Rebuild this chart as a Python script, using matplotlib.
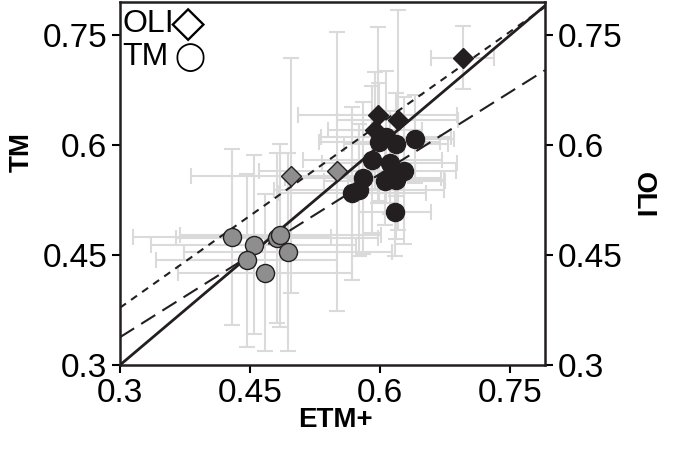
import numpy as np
import matplotlib
matplotlib.use("Agg")
import matplotlib.pyplot as plt

fam = ['Liberation Sans', 'DejaVu Sans']
plt.rcParams['font.family'] = fam

ticks = [0.3, 0.45, 0.6, 0.75]
tick_labels = ['0.3', '0.45', '0.6', '0.75']

# OLI vs ETM+ (diamonds)
oli_dark_x = [0.695, 0.597, 0.620, 0.594]
oli_dark_y = [0.719, 0.641, 0.634, 0.620]
oli_dark_xerr = [0.036, 0.092, 0.070, 0.054]
oli_dark_yerr = [0.043, 0.120, 0.150, 0.080]

oli_gray_x = [0.497, 0.550]
oli_gray_y = [0.558, 0.564]
oli_gray_xerr = [0.115, 0.090]
oli_gray_yerr = [0.160, 0.190]

# TM vs ETM+ (circles)
tm_dark_x = [0.599, 0.607, 0.618, 0.640, 0.591, 0.611, 0.580, 0.627, 0.605, 0.618, 0.575, 0.568, 0.617]
tm_dark_y = [0.604, 0.611, 0.601, 0.608, 0.580, 0.576, 0.555, 0.565, 0.551, 0.552, 0.538, 0.534, 0.509]
tm_dark_xerr = [0.070, 0.075, 0.060, 0.045, 0.080, 0.078, 0.090, 0.060, 0.070, 0.055, 0.098, 0.085, 0.041]
tm_dark_yerr = [0.080, 0.090, 0.070, 0.060, 0.100, 0.070, 0.104, 0.100, 0.060, 0.080, 0.090, 0.118, 0.060]

tm_gray_x = [0.429, 0.454, 0.446, 0.481, 0.485, 0.4935, 0.467]
tm_gray_y = [0.474, 0.464, 0.443, 0.473, 0.477, 0.454, 0.426]
tm_gray_xerr = [0.114, 0.118, 0.104, 0.116, 0.116, 0.120, 0.100]
tm_gray_yerr = [0.120, 0.122, 0.118, 0.116, 0.125, 0.135, 0.107]

# fitted lines (intercept, slope)
oli_fit = (0.127, 0.837)
tm_fit = (0.115, 0.743)

xlim = (0.3, 0.79)
ylim = (0.3, 0.795)

dark = '#231f20'
gray = '#8e8e8e'
ecol = '#dadada'

fig = plt.figure(figsize=(6.75, 4.63), dpi=100)
ax = fig.add_axes([120/675, 1 - 365/463, 425/675, 363/463])

eb = dict(fmt='none', ecolor=ecol, elinewidth=1.5, capsize=6, capthick=1.5, zorder=1)
ax.errorbar(oli_dark_x, oli_dark_y, xerr=oli_dark_xerr, yerr=oli_dark_yerr, **eb)
ax.errorbar(oli_gray_x, oli_gray_y, xerr=oli_gray_xerr, yerr=oli_gray_yerr, **eb)
ax.errorbar(tm_dark_x, tm_dark_y, xerr=tm_dark_xerr, yerr=tm_dark_yerr, **eb)
ax.errorbar(tm_gray_x, tm_gray_y, xerr=tm_gray_xerr, yerr=tm_gray_yerr, **eb)

xx = np.array(xlim)
ax.plot(xx, xx, color=dark, lw=2, zorder=2)
ax.plot(xx, oli_fit[0] + oli_fit[1] * xx, color=dark, lw=1.5, dashes=(3.5, 3), zorder=2)
ax.plot(xx, tm_fit[0] + tm_fit[1] * xx, color=dark, lw=1.5, dashes=(8, 4), zorder=2)

ax.plot(oli_gray_x, oli_gray_y, 'D', ms=10, mfc=gray, mec=dark, mew=1, ls='none', zorder=3)
ax.plot(oli_dark_x, oli_dark_y, 'D', ms=10, mfc=dark, mec=dark, mew=1, ls='none', zorder=3)
ax.plot(tm_gray_x, tm_gray_y, 'o', ms=13, mfc=gray, mec=dark, mew=1, ls='none', zorder=3)
ax.plot(tm_dark_x, tm_dark_y, 'o', ms=13, mfc=dark, mec=dark, mew=1, ls='none', zorder=3)

ax.set_xlim(xlim)
ax.set_ylim(ylim)
ax.set_xticks(ticks)
ax.set_xticklabels(tick_labels)
ax.set_yticks(ticks)
ax.set_yticklabels(tick_labels)
ax.tick_params(axis='both', direction='out', length=6, width=1.5, labelsize=24, pad=3)
ax.tick_params(axis='y', right=True, labelright=True)
for s in ax.spines.values():
    s.set_linewidth(1.8)
    s.set_color(dark)

lab = dict(fontsize=20, fontweight='bold')
ax.set_xlabel('ETM+', **lab)
ax.xaxis.set_label_coords(0.506, -0.115)
fig.text(22/675, 1 - 152/463, 'TM', rotation=90, ha='center', va='center', **lab)
fig.text(643/675, 1 - 195/463, 'OLI', rotation=270, ha='center', va='center', **lab)

# legend drawn as text with outline symbols
ax.text(0.005, 0.94, 'OLI', fontsize=23, va='center', ha='left', transform=ax.transAxes)
ax.text(0.161, 0.941, '\u25c7', fontsize=32, va='center', ha='center',
        transform=ax.transAxes, family=['DejaVu Sans'])
ax.text(0.005, 0.849, 'TM', fontsize=23, va='center', ha='left', transform=ax.transAxes)
ax.text(0.164, 0.848, '\u25ef', fontsize=20, va='center', ha='center',
        transform=ax.transAxes, family=['DejaVu Sans'])

fig.savefig('out.png', dpi=100)
